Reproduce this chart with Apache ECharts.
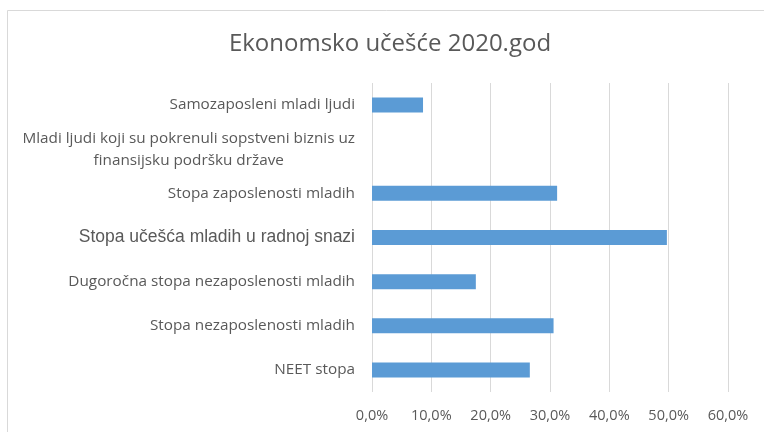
<!DOCTYPE html>
<html>
<head>
<meta charset="utf-8">
<script src="https://cdn.jsdelivr.net/npm/echarts@6/dist/echarts.min.js"></script>
<style>
  html, body { margin: 0; padding: 0; background: #fff; }
  #chart { width: 764px; height: 432px; }
</style>
</head>
<body>
<div id="chart"></div>
<script>
// categories, bottom to top (as ECharts draws category y axis)
var categories = [
    'NEET stopa',
    'Stopa nezaposlenosti mladih',
    'Dugoročna stopa nezaposlenosti mladih',
    'Stopa učešća mladih u radnoj snazi',
    'Stopa zaposlenosti mladih',
    'Mladi ljudi koji su pokrenuli sopstveni biznis uz\nfinansijsku podršku države',
    'Samozaposleni mladi ljudi'
];
var values = [26.6, 30.6, 17.5, 49.7, 31.2, 0, 8.6];
var xTicks = [0, 10, 20, 30, 40, 50, 60];

var chart = echarts.init(document.getElementById('chart'));
var option = {
    backgroundColor: '#fff',
    animation: false,
    graphic: [{
        type: 'rect',
        silent: true,
        shape: { x: 7.5, y: 10.5, width: 800, height: 500 },
        style: { fill: 'none', stroke: '#d9d9d9', lineWidth: 1 }
    }],
    title: {
        text: 'Ekonomsko učešće 2020.god',
        left: 385,
        top: 27,
        textAlign: 'center',
        textStyle: {
            fontFamily: 'Open Sans',
            fontWeight: 'normal',
            fontSize: 24,
            color: '#595959'
        }
    },
    grid: {
        left: 372,
        right: 36,
        top: 83,
        bottom: 40,
        containLabel: false
    },
    xAxis: {
        type: 'value',
        min: xTicks[0],
        max: xTicks[xTicks.length - 1],
        interval: 10,
        axisLine: { show: false },
        axisTick: { show: false },
        splitLine: { show: true, lineStyle: { color: '#d9d9d9', width: 1 } },
        axisLabel: {
            margin: 16,
            color: '#595959',
            fontFamily: 'Open Sans',
            fontSize: 14.5,
            formatter: function (v) {
                return v.toFixed(1).replace('.', ',') + '%';
            }
        }
    },
    yAxis: {
        type: 'category',
        data: categories,
        axisLine: { show: false },
        axisTick: { show: false },
        axisLabel: {
            margin: 17,
            color: '#595959',
            fontFamily: 'Open Sans',
            fontSize: 15.3,
            lineHeight: 22,
            formatter: function (v) {
                if (v === 'Stopa učešća mladih u radnoj snazi') return '{a|' + v + '}';
                if (v.indexOf('\n') >= 0) {
                    return v.split('\n').map(function (s) { return '{c|' + s + '}'; }).join('\n');
                }
                return v;
            },
            rich: {
                a: {
                    fontFamily: 'Liberation Sans',
                    fontSize: 17.5,
                    color: '#595959'
                },
                c: {
                    align: 'center',
                    fontFamily: 'Open Sans',
                    fontSize: 15.3,
                    lineHeight: 22,
                    color: '#595959'
                }
            }
        }
    },
    series: [{
        type: 'bar',
        data: values,
        barWidth: 15,
        itemStyle: {
            color: '#5b9bd5'
        }
    }]
};
chart.setOption(option);
</script>
</body>
</html>
